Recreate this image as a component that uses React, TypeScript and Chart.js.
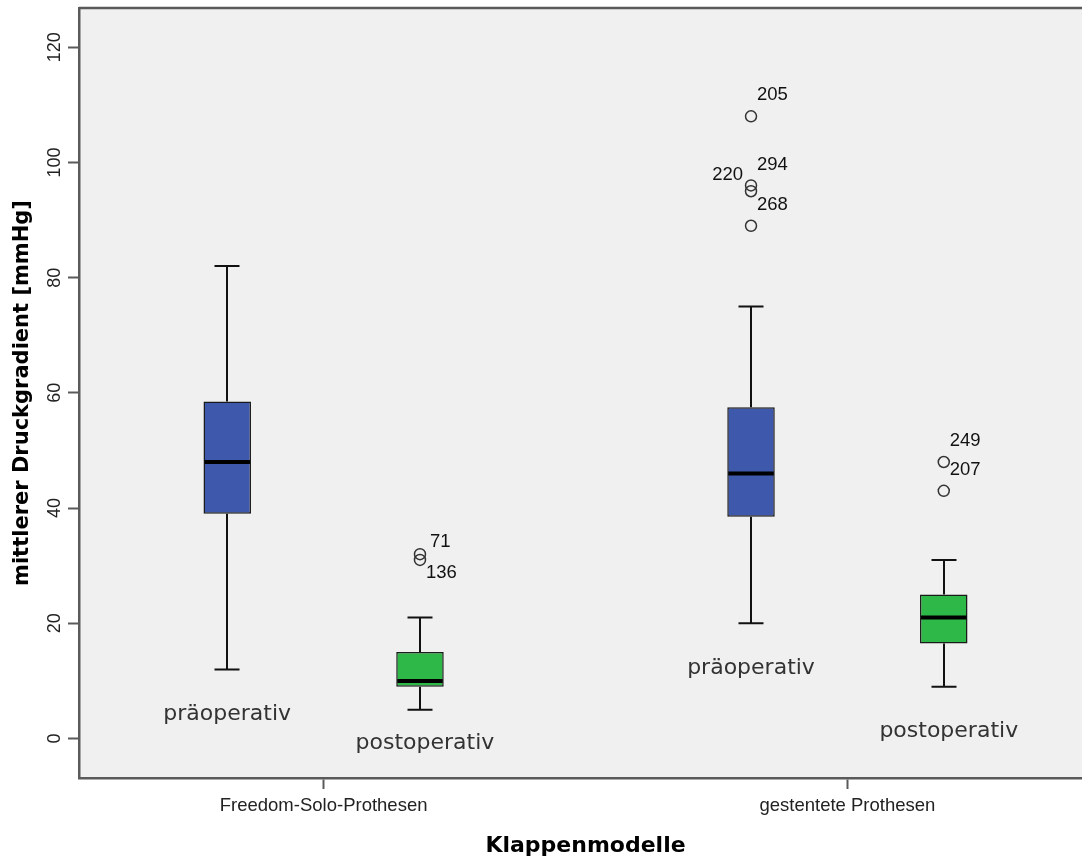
import React, { useEffect, useRef } from "react";
import { Chart, registerables } from "chart.js";

Chart.register(...registerables);

const categories = ["Freedom-Solo-Prothesen", "gestentete Prothesen"];
const seriesNames = ["präoperativ", "postoperativ"];

const preMin = [12, 20];
const preQ1 = [39, 38.5];
const preMedian = [48, 46];
const preQ3 = [58.5, 57.5];
const preMax = [82, 75];

const postMin = [5, 9];
const postQ1 = [9, 16.5];
const postMedian = [10, 21];
const postQ3 = [15, 25];
const postMax = [21, 31];

const outlierCategory = [0, 0, 1, 1, 1, 1, 1, 1];
const outlierSeries = [1, 1, 0, 0, 0, 0, 1, 1];
const outlierValues = [32, 31, 108, 96, 95, 89, 48, 43];
const outlierCases = ["71", "136", "205", "294", "220", "268", "249", "207"];

const yTickValues = [0, 20, 40, 60, 80, 100, 120];

// layout / style constants
const SERIES_OFFSET = 0.184;
const BOX_WIDTH = 47.5;
const CAP_WIDTH = 25;
const SERIES_COLORS = ["#3E58AC", "#2EB848"];
const SERIES_LABEL_DX = [0, 5];
const FRAME_COLOR = "#5a5a5a";
const LABEL_NUDGE: Record<string, { dx: number; dy: number; align: CanvasTextAlign }> = {
  "71": { dx: 10, dy: -12, align: "left" },
  "136": { dx: 6, dy: 13, align: "left" },
  "220": { dx: -8, dy: -16, align: "right" },
};
const DEFAULT_NUDGE = { dx: 6, dy: -21, align: "left" as CanvasTextAlign };

const stats = [
  { min: preMin, q1: preQ1, median: preMedian, q3: preQ3, max: preMax },
  { min: postMin, q1: postQ1, median: postMedian, q3: postQ3, max: postMax },
];

const seriesX = (cat: number, s: number) => cat + (s === 0 ? -SERIES_OFFSET : SERIES_OFFSET);

const boxPlotPlugin = {
  id: "boxPlotExtras",
  beforeDraw(chart: any) {
    const { ctx, chartArea: a } = chart;
    ctx.save();
    ctx.fillStyle = "#F0F0F0";
    ctx.fillRect(a.left, a.top, a.right - a.left, a.bottom - a.top);
    ctx.restore();
  },
  beforeDatasetsDraw(chart: any) {
    const { ctx } = chart;
    const xs = chart.scales.x;
    const ys = chart.scales.y;
    ctx.save();
    ctx.strokeStyle = "#111";
    ctx.lineWidth = 2;
    stats.forEach((st, s) => {
      categories.forEach((_, c) => {
        const x = Math.round(xs.getPixelForValue(seriesX(c, s)));
        const yMax = ys.getPixelForValue(st.max[c]);
        const yQ3 = ys.getPixelForValue(st.q3[c]);
        const yQ1 = ys.getPixelForValue(st.q1[c]);
        const yMin = ys.getPixelForValue(st.min[c]);
        ctx.beginPath();
        ctx.moveTo(x, yQ3);
        ctx.lineTo(x, yMax);
        ctx.moveTo(x, yQ1);
        ctx.lineTo(x, yMin);
        ctx.moveTo(x - CAP_WIDTH / 2, yMax);
        ctx.lineTo(x + CAP_WIDTH / 2, yMax);
        ctx.moveTo(x - CAP_WIDTH / 2, yMin);
        ctx.lineTo(x + CAP_WIDTH / 2, yMin);
        ctx.stroke();
      });
    });
    ctx.restore();
  },
  afterDatasetsDraw(chart: any) {
    const { ctx, chartArea: a } = chart;
    const xs = chart.scales.x;
    const ys = chart.scales.y;
    ctx.save();
    // medians
    ctx.strokeStyle = "#000";
    ctx.lineWidth = 4;
    stats.forEach((st, s) => {
      categories.forEach((_, c) => {
        const x = xs.getPixelForValue(seriesX(c, s));
        const y = ys.getPixelForValue(st.median[c]);
        ctx.beginPath();
        ctx.moveTo(x - BOX_WIDTH / 2 + 1, y);
        ctx.lineTo(x + BOX_WIDTH / 2 - 1, y);
        ctx.stroke();
      });
    });
    // series labels under each box
    ctx.font = '22px "DejaVu Sans"';
    ctx.fillStyle = "#333";
    ctx.textAlign = "center";
    ctx.textBaseline = "alphabetic";
    stats.forEach((st, s) => {
      categories.forEach((_, c) => {
        const x = xs.getPixelForValue(seriesX(c, s)) + SERIES_LABEL_DX[s];
        const yMin = ys.getPixelForValue(st.min[c]);
        const baseline = Math.min(yMin + 50.5, a.bottom - 29);
        ctx.fillText(seriesNames[s], x, baseline);
      });
    });
    // outlier case numbers
    const meta = chart.getDatasetMeta(2);
    ctx.font = '18.5px "Liberation Sans"';
    ctx.fillStyle = "#111";
    ctx.textBaseline = "middle";
    meta.data.forEach((pt: any, i: number) => {
      const n = LABEL_NUDGE[outlierCases[i]] || DEFAULT_NUDGE;
      ctx.textAlign = n.align;
      ctx.fillText(outlierCases[i], pt.x + n.dx, pt.y + n.dy);
    });
    ctx.restore();
  },
  afterDraw(chart: any) {
    const { ctx, chartArea: a } = chart;
    ctx.save();
    ctx.strokeStyle = FRAME_COLOR;
    ctx.lineWidth = 2.5;
    ctx.beginPath();
    ctx.moveTo(a.left, a.top);
    ctx.lineTo(a.right, a.top);
    ctx.stroke();
    ctx.restore();
  },
};

export default function App() {
  const canvasRef = useRef<HTMLCanvasElement | null>(null);

  useEffect(() => {
    if (!canvasRef.current) return;
    const boxDatasets = stats.map((st, s) => ({
      type: "bar" as const,
      label: seriesNames[s],
      data: categories.map((_, c) => ({ x: seriesX(c, s), y: [st.q1[c], st.q3[c]] })),
      backgroundColor: SERIES_COLORS[s],
      borderColor: "#1a1a1a",
      borderWidth: 1.5,
      borderSkipped: false,
      grouped: false,
      maxBarThickness: BOX_WIDTH,
      order: 2,
    }));
    const outlierDataset = {
      type: "scatter" as const,
      label: "Ausreißer",
      data: outlierValues.map((v, i) => ({ x: seriesX(outlierCategory[i], outlierSeries[i]), y: v })),
      pointRadius: 5.5,
      pointBorderWidth: 1.5,
      pointBorderColor: "#333",
      pointBackgroundColor: "rgba(0,0,0,0)",
      order: 0,
    };

    const chart = new Chart(canvasRef.current, {
      type: "bar",
      data: { datasets: [...boxDatasets, outlierDataset] as any },
      options: {
        animation: false,
        responsive: false,
        events: [],
        layout: { padding: { top: 8, left: 0, right: 0, bottom: 0 } },
        plugins: { legend: { display: false }, tooltip: { enabled: false } },
        scales: {
          x: {
            type: "linear",
            min: -0.467,
            max: 1.467,
            offset: false,
            afterBuildTicks: (scale: any) => {
              scale.ticks = categories.map((_, i) => ({ value: i }));
            },
            afterFit: (scale: any) => {
              scale.height = 80;
            },
            ticks: {
              callback: (v: any) => categories[v as number],
              autoSkip: false,
              maxRotation: 0,
              minRotation: 0,
              padding: 6,
              color: "#222",
              font: { family: "Liberation Sans", size: 18.5 },
            },
            grid: {
              offset: false,
              drawOnChartArea: false,
              drawTicks: true,
              tickLength: 11,
              tickColor: FRAME_COLOR,
              tickWidth: 2,
            },
            border: { display: true, color: FRAME_COLOR, width: 2.5 },
            title: {
              display: true,
              text: "Klappenmodelle",
              color: "#000",
              font: { family: "DejaVu Sans", weight: "bold", size: 22, lineHeight: 1.05 },
              padding: { top: 0, bottom: 0 },
            },
          },
          y: {
            type: "linear",
            min: -6.85,
            max: 126.8,
            afterBuildTicks: (scale: any) => {
              scale.ticks = yTickValues.map((v) => ({ value: v }));
            },
            afterFit: (scale: any) => {
              scale.width = 79;
            },
            ticks: {
              callback: (v: any) => String(v),
              minRotation: 90,
              maxRotation: 90,
              crossAlign: "center",
              padding: -2.5,
              color: "#222",
              font: { family: "Liberation Sans", size: 18, lineHeight: 1 },
            },
            grid: {
              drawOnChartArea: false,
              drawTicks: true,
              tickLength: 11,
              tickColor: FRAME_COLOR,
              tickWidth: 2,
            },
            border: { display: true, color: FRAME_COLOR, width: 2.5 },
            title: {
              display: true,
              text: "mittlerer Druckgradient [mmHg]",
              color: "#000",
              font: { family: "DejaVu Sans", weight: "bold", size: 21, lineHeight: 1.2 },
              padding: { top: 10.3, bottom: 0 },
            },
          },
        },
      } as any,
      plugins: [boxPlotPlugin],
    });
    return () => chart.destroy();
  }, []);

  return (
    <div style={{ position: "absolute", left: 0, top: 0, width: 1082, height: 858, overflow: "hidden", background: "#fff" }}>
      <canvas ref={canvasRef} width={1099} height={858} style={{ display: "block" }} />
    </div>
  );
}
